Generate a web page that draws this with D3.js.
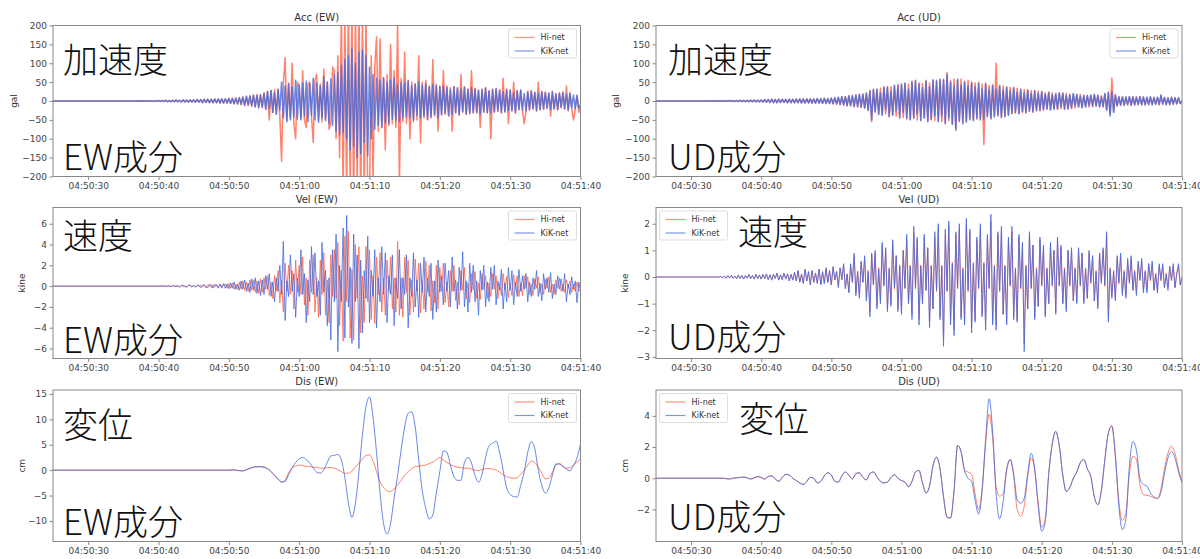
<!DOCTYPE html>
<html>
<head>
<meta charset="utf-8">
<script src="https://cdn.jsdelivr.net/npm/d3@7"></script>
<style>
  body { margin: 0; background: #fff; }
  svg { display: block; }
</style>
</head>
<body>
<svg id="chart" width="1200" height="559"></svg>
<script>
// time axis: 04:50:25 .. 04:51:40, samples every dt seconds from the start
const xTickLabels = ["04:50:30", "04:50:40", "04:50:50", "04:51:00", "04:51:10", "04:51:20", "04:51:30", "04:51:40"];
const seriesNames = ["Hi-net", "KiK-net"];

const accTicks = [-200, -150, -100, -50, 0, 50, 100, 150, 200];
const velEwTicks = [-6, -4, -2, 0, 2, 4, 6];
const disEwTicks = [-10, -5, 0, 5, 10, 15];
const velUdTicks = [-3, -2, -1, 0, 1, 2];
const disUdTicks = [-2, 0, 2, 4];

const accLim = [-200, 200];
const velEwLim = [-6.96, 7.56];
const disEwLim = [-14.05, 15.78];
const velUdLim = [-3.06, 2.61];
const disUdLim = [-4.06, 5.66];

// ---- acceleration EW (gal), dt = 0.25 s
const accEwKik = [
  0,0,0,0,0,0,0,0,0,0,0,0,0,0,0,0,0,0,0,0,
  0,0,0,0,0,0,0,0,0,0,0,0,0,0,0,0,0,0,0,0,
  0,0,0,0,0,0,0,0,0.5,-0.5,0.5,-0.5,1,-1,0.5,-1,1,-0.5,1,-1,
  1.5,-1,1,-1.5,2,-1.5,1,-2,2,-1.5,2.5,-2,1.5,-2.5,3,-2,2.5,-3,2,-2.5,
  3,-3,4,-3,3.5,-4,4,-3.5,5,-4,4.5,-5,5,-4.5,6,-5,5.5,-6,6,-5,
  7,-6,6,-8,8,-7,9,-8,10,-12,12,-10,14,-12,15,-16,14,-18,16,-15,
  20,-22,25,-20,28,-30,22,-35,30,-25,50,-45,40,-55,45,-50,38,-42,55,-48,
  42,-50,48,-40,52,-55,45,-38,60,-50,48,-56,40,-45,65,-52,50,-60,58,-65,
  70,-80,75,-90,95,-85,110,-100,120,-130,140,-120,100,-150,130,-140,135,-110,120,-145,
  90,-100,70,-75,60,-65,55,-70,62,-58,50,-60,55,-48,60,-52,45,-55,50,-45,
  48,-42,52,-45,40,-50,45,-38,50,-44,42,-40,46,-48,38,-42,44,-36,40,-45,
  38,-35,40,-32,36,-38,30,-35,38,-30,34,-36,32,-28,36,-34,30,-32,35,-30,
  32,-30,28,-34,30,-28,34,-30,26,-32,30,-28,32,-26,28,-30,25,-28,30,-26,
  28,-25,22,-30,26,-22,28,-24,20,-26,24,-22,26,-20,22,-25,20,-22,24,-20,
  22,-18,20,-22,24,-20,18,-22,20,-16,22,-20,18,-24,20,-18,16,-20,14,-18,
  -10
];
const accEwHi = [
  0,0,0,0,0,0,0,0,0,0,0,0,0,0,0,0,0,0,0,0,
  0,0,0,0,0,0,0,0,0,0,0,0,0,0,0,0,0,0,0,0,
  0,0,0,0,0,0,0,0,0.5,-0.5,0.5,-1,1,-0.5,1,-1,0.5,-1,1,-0.5,
  1,-1.5,1.5,-1,2,-2,1.5,-1.5,2,-2,2.5,-2,2,-2.5,2.5,-3,2,-2.5,3,-2,
  3,-3.5,3.5,-3,4,-4,4.5,-4,4,-5,5,-4,5.5,-5,5,-6,6,-5,5.5,-6,
  6,-7,8,-6,7,-9,9,-10,11,-10,13,-12,12,-14,16,-14,18,-15,17,-18,
  22,-20,25,-50,28,-30,30,-35,32,-40,-160,45,115,-50,48,-45,100,-60,-100,50,
  40,-45,80,-50,-70,45,50,-40,-110,55,70,-50,45,-55,85,-48,50,-75,-60,90,
  80,-100,120,-150,250,-260,240,-280,300,-250,270,-300,260,-240,280,-290,250,-270,230,-260,
  -260,120,-210,90,170,-80,165,-70,60,-130,70,-65,150,-60,80,-70,210,-220,60,-55,
  130,-60,55,-100,50,-55,45,-50,120,-110,50,-45,55,-50,40,-45,110,-40,45,-80,
  40,-38,80,-35,40,-40,35,-80,38,-32,36,-38,70,-30,38,-36,32,-34,80,-32,
  34,-32,30,-70,32,-30,36,-32,28,-100,32,-30,34,-28,30,-32,60,-30,32,-60,
  30,-27,50,-32,28,-24,30,-26,-60,-28,26,-24,28,-22,24,-27,50,-24,26,-22,
  24,-20,22,-40,26,-22,20,-24,22,-18,24,-22,40,-26,22,-20,-50,-22,16,-30,
  -12
];

// ---- acceleration UD (gal), dt = 0.25 s
const accUdKik = [
  0,0,0,0,0,0,0,0,0,0,0,0,0,0,0,0,0,0,0,0,
  0,0,0,0,0,0,0,0,0,0,0,0,0.5,-0.5,0.5,-0.5,1,-0.5,0.5,-1,
  1,-1,1.5,-1,1,-1.5,1.5,-1,2,-1.5,1.5,-2,2,-1.5,2,-2,2.5,-2,2,-2.5,
  3,-2.5,4,-3,3.5,-4,5,-4,4,-5,4.5,-4,5,-3.5,4,-5,5,-4,4.5,-5,
  5,-4.5,6,-5,5,-6,5.5,-5,6,-5.5,5,-6,6.5,-5,6,-6.5,7,-6,6,-7,
  8,-7,9,-8,10,-9,12,-10,11,-13,14,-12,13,-15,16,-14,18,-16,17,-19,
  20,-25,28,-50,30,-28,32,-35,22,-38,36,-24,38,-40,25,-38,42,-26,40,-45,
  45,-30,48,-45,32,-50,50,-46,55,-35,45,-52,35,-44,52,-55,38,-48,56,-40,
  52,-55,58,-40,55,-60,70,-45,50,-62,40,-75,58,-52,42,-60,50,-56,40,-48,
  48,-52,38,-45,46,-50,32,-48,45,-40,30,-46,40,-42,32,-38,40,-44,30,-40,
  36,-38,26,-32,36,-30,24,-34,30,-28,22,-30,28,-26,20,-28,26,-25,20,-24,
  25,-22,18,-20,22,-24,16,-22,18,-20,22,-15,20,-22,14,-20,16,-18,20,-13,
  18,-15,12,-18,14,-16,15,-11,16,-13,18,-12,14,-16,11,-14,20,-25,22,-40,
  25,-30,15,-12,12,-10,10,-12,11,-9,12,-10,10,-11,9,-10,12,-9,10,-11,
  10,-9,11,-10,9,-8,10,-9,16,-8,9,-10,8,-9,10,-8,9,-7,8,-7,
  0
];
const accUdHi = [
  0,0,0,0,0,0,0,0,0,0,0,0,0,0,0,0,0,0,0,0,
  0,0,0,0,0,0,0,0,0,0,0,0,0.5,-0.5,0.5,-1,0.5,-0.5,1,-0.5,
  1,-1.5,1,-1,1.5,-1,1,-1.5,1.5,-2,2,-1.5,1.5,-2,2.5,-1.5,2,-2.5,2.5,-2,
  2.5,-3,3.5,-3.5,4,-3,4.5,-4.5,4,-4,5,-4.5,4,-4,4.5,-4.5,4.5,-5,5,-4,
  5.5,-5,5,-5.5,6,-5,6,-5.5,5.5,-6,6,-5,6,-6,5.5,-6,6.5,-7,7,-6,
  7,-8,8,-9,9,-10,11,-11,12,-12,13,-13,15,-14,15,-16,17,-17,19,-18,
  22,-24,26,-55,32,-30,30,-36,34,-35,38,-34,36,-42,38,-36,40,-40,44,-42,
  42,-44,46,-48,45,-48,52,-44,52,-50,48,-50,46,-46,55,-52,48,-50,54,-52,
  55,-52,56,-54,58,-58,75,-52,54,-60,58,-78,55,-55,58,-58,52,-54,55,-50,
  50,-50,48,-48,50,-46,45,-115,48,-42,42,-48,44,-40,100,-40,42,-42,40,-42,
  38,-36,36,-34,34,-32,34,-32,32,-30,30,-32,30,-28,28,-30,28,-26,26,-26,
  24,-24,22,-22,24,-22,22,-20,20,-22,20,-20,22,-20,20,-22,18,-20,18,-18,
  16,-17,18,-16,16,-14,14,-16,14,-15,16,-14,16,-14,14,-16,18,-22,24,-35,
  60,-28,18,-14,10,-12,12,-10,9,-11,10,-12,12,-9,11,-9,10,-11,11,-9,
  9,-10,10,-9,10,-9,9,-10,14,-9,10,-9,9,-10,9,-9,8,-8,9,-6,
  0
];

// ---- velocity EW (kine), dt = 0.25 s
const velEwKik = [
  0,0,0,0,0,0,0,0,0,0,0,0,0,0,0,0,0,0,0,0,
  0,0,0,0,0,0,0,0,0,0,0,0,0,0,0,0,0,0,0,0,
  0,0,0,0,0,0,0,0,0,0,0,0,0,0,0,0,0,0,0,0,
  0,0.05,-0.05,0.05,0,-0.05,0.05,-0.05,0.05,0,-0.05,0.05,-0.1,0.05,0.1,-0.05,-0.1,0.1,0.05,-0.1,
  0.1,-0.1,0.05,0.1,-0.15,0.1,0.15,-0.1,-0.15,0.15,0.1,-0.2,0.15,0.1,-0.2,0.2,-0.15,0.25,-0.2,0.2,
  -0.25,0.3,-0.2,0.4,-0.3,0.2,-0.4,0.5,-0.3,0.6,-0.5,0.3,-0.6,0.7,-0.4,0.8,-0.7,0.5,-0.9,0.6,
  -0.8,1.0,-0.3,1.2,-1.0,0.4,-1.5,0.8,-0.5,2.0,-0.8,4.3,-3.3,0.5,-1.0,3.0,-0.5,1.2,-3.0,0.8,
  -1.0,3.5,-0.8,1.2,-3.5,0.6,-1.5,3.8,-0.8,3.2,-1.0,0.5,-2.8,4.2,-0.6,1.5,-3.8,0.8,-5.2,3.5,
  -1.5,5.0,-6.3,2.0,-1.5,5.6,-5.0,6.8,-2.0,1.8,-5.5,5.0,-1.5,3.0,-6.0,2.5,-4.5,1.5,-1.2,4.8,
  -3.5,1.5,-1.0,3.5,-4.0,0.8,-1.5,3.8,-0.8,3.2,-3.5,1.0,-0.8,3.0,-3.8,0.8,-1.2,3.5,-2.2,0.8,
  -0.8,3.0,-4.0,0.8,-1.0,3.2,-2.0,0.6,-3.0,2.2,-0.6,2.8,-2.5,0.8,-1.0,2.2,-3.2,0.5,-2.5,2.5,
  -0.6,1.0,-1.8,2.2,-0.5,1.5,-2.0,2.8,-0.5,0.6,-2.2,1.8,-0.4,3.3,-2.0,0.5,-2.5,2.2,-0.6,2.0,
  -1.5,0.5,-2.8,1.5,-0.4,2.0,-2.0,0.4,-1.5,1.8,-0.3,2.0,-1.8,0.5,-0.4,1.6,-2.2,0.3,-1.5,1.8,
  -0.4,1.5,-1.8,0.4,-1.0,1.6,-0.5,1.0,-0.3,1.2,-1.5,0.4,-1.0,0.8,-0.3,1.5,-1.0,0.3,-1.4,1.2,
  -0.3,0.8,-0.6,1.3,-1.2,0.2,-0.8,1.0,-0.3,0.7,-0.5,1.2,-1.5,0.2,-0.8,0.9,-0.3,0.5,-1.6,0.4,
  -0.5
];
const velEwHi = [
  0,0,0,0,0,0,0,0,0,0,0,0,0,0,0,0,0,0,0,0,
  0,0,0,0,0,0,0,0,0,0,0,0,0,0,0,0,0,0,0,0,
  0,0,0,0,0,0,0,0,0,0,0,0,0,0,0,0,0,0,0,0,
  0,-0.05,0.05,0,-0.05,0.05,0,-0.05,0.05,-0.05,0.05,0,-0.05,0.1,-0.05,0.05,-0.1,0.05,0.1,-0.05,
  0.05,-0.1,0.1,-0.05,0.1,-0.1,0.1,-0.15,0.1,0.1,-0.15,0.15,-0.1,0.15,-0.15,0.2,-0.2,0.15,0.2,-0.2,
  0.25,-0.2,0.3,-0.3,0.2,-0.35,0.4,-0.3,0.5,-0.4,0.4,-0.5,0.6,-0.4,0.6,-0.6,0.5,-0.7,0.7,-0.6,
  0.8,-0.3,1.0,-0.9,0.4,-1.2,1.0,-0.5,1.5,-1.6,0.6,-2.5,2.2,-0.5,2.0,-0.8,1.5,-2.2,2.5,-0.6,
  2.0,-0.8,2.8,-1.8,0.8,-2.8,2.5,-0.6,3.0,-2.5,0.8,-3.0,2.5,-0.8,3.2,-2.8,0.6,-3.5,3.0,-1.0,
  3.5,-1.2,4.2,-3.8,1.5,-5.3,4.8,-1.5,5.3,-5.0,1.6,-5.2,4.0,-1.2,3.8,-4.5,1.0,-3.5,3.8,-1.5,
  3.5,-3.2,1.0,-3.6,2.8,-0.8,3.2,-2.5,0.8,-2.8,2.5,-0.6,2.8,-2.2,0.8,-2.5,4.3,-2.8,0.8,-3.0,
  2.8,-0.6,2.5,-2.8,0.6,-2.5,2.6,-0.5,2.2,-2.6,0.5,-2.2,2.4,-0.6,2.0,-2.4,0.5,-1.6,2.0,-2.2,
  1.8,-0.5,2.2,-1.6,0.4,-2.0,1.5,-0.5,2.0,-1.4,0.4,-1.8,1.5,-0.4,1.8,-1.2,0.3,-1.6,1.2,-0.4,
  1.4,-1.2,0.3,-1.3,1.2,-0.3,1.0,-1.2,0.3,-1.0,1.2,-0.3,1.0,-1.2,0.3,-0.9,1.2,-0.3,0.9,-1.1,
  0.3,-0.9,1.1,-0.3,1.0,-1.0,0.3,-0.9,1.0,-0.2,0.9,-0.8,0.2,-0.9,0.7,-0.2,0.9,-0.7,0.2,-0.8,
  0.7,-0.2,0.9,-0.6,0.2,-0.8,0.6,-0.2,0.8,-0.5,0.2,-0.6,0.6,-0.2,0.5,-0.6,0.2,-0.5,0.4,-0.5,
  -0.3
];

// ---- velocity UD (kine), dt = 0.25 s
const velUdKik = [
  0,0,0,0,0,0,0,0,0,0,0,0,0,0,0,0,0,0,0,0,
  0,0,0,0,0,0,0,0,0,0,0,0,0,0,0,0,0,0.02,-0.03,0.03,
  -0.05,0.05,-0.03,0.06,-0.05,0.03,-0.06,0.08,-0.05,0.05,-0.08,0.06,-0.04,0.1,-0.06,0.05,-0.08,0.1,-0.05,0.08,
  -0.08,0.1,-0.06,0.12,-0.1,0.08,-0.12,0.1,-0.05,0.15,-0.12,0.08,-0.1,0.15,-0.08,0.12,-0.15,0.1,-0.12,0.18,
  -0.15,0.25,-0.2,0.1,-0.25,0.3,-0.15,0.2,-0.3,0.25,-0.2,0.15,-0.25,0.3,-0.3,0.2,-0.25,0.35,-0.2,0.25,
  -0.3,0.4,-0.1,0.2,-0.4,0.35,-0.1,0.5,-0.45,0.1,-0.6,0.5,-0.2,0.9,-0.7,0.2,-0.8,0.6,-0.2,0.8,
  -0.9,0.2,-1.5,0.9,-0.3,1.0,-1.2,0.3,-1.0,1.3,-0.3,1.1,-1.3,0.3,-1.1,1.4,-0.4,0.8,-1.3,0.4,
  -1.4,1.0,-0.4,1.6,-1.0,0.4,-1.6,1.9,-0.4,1.5,-1.8,0.4,-1.0,1.6,-0.5,1.1,-1.9,0.4,-1.2,1.7,
  -0.5,2.0,-1.6,0.4,-2.6,1.8,-0.5,2.1,-1.8,0.5,-2.2,1.7,-0.4,2.0,-1.6,0.3,-1.8,2.2,-0.5,1.8,
  -2.1,0.5,-1.7,1.5,-0.4,2.0,-1.5,0.5,-2.0,1.6,-0.4,2.35,-1.8,0.4,-2.0,1.7,-0.5,1.9,-1.4,0.4,
  -1.8,1.5,-0.3,1.9,-1.6,0.3,-1.7,1.6,-0.4,1.3,-2.8,0.4,-1.2,1.7,-0.4,1.2,-1.6,0.3,-1.1,1.5,
  -0.3,1.2,-1.5,0.3,-1.0,1.3,-0.3,1.0,-1.4,1.5,-0.3,1.2,-1.0,0.3,-1.3,1.0,-0.3,1.1,-0.9,0.3,
  -1.0,1.1,-0.3,0.9,-1.0,0.3,-0.8,1.0,-0.2,0.8,-0.9,0.2,-1.2,0.9,-0.2,1.1,-0.3,1.7,-1.7,0.3,
  -0.8,0.2,-0.9,0.8,-0.2,0.9,-0.7,0.2,-0.8,0.7,-0.2,0.8,-0.5,0.2,-0.7,0.6,-0.1,0.7,-0.6,0.2,
  -0.6,0.5,-0.1,0.6,-0.5,0.1,-0.6,0.5,-0.1,0.5,-0.4,0.1,-0.5,0.4,-0.1,0.5,-0.4,0.1,0.5,-0.3,
  0
];
const velUdHi = [
  0,0,0,0,0,0,0,0,0,0,0,0,0,0,0,0,0,0,0,0,
  0,0,0,0,0,0,0,0,0,0,0,0,0,0,0,0,0,0.02,-0.02,0.03,
  -0.04,0.05,-0.04,0.05,-0.05,0.04,-0.05,0.07,-0.05,0.06,-0.07,0.05,-0.05,0.09,-0.06,0.06,-0.07,0.09,-0.06,0.07,
  -0.07,0.09,-0.07,0.1,-0.09,0.08,-0.1,0.1,-0.06,0.13,-0.11,0.08,-0.1,0.13,-0.08,0.11,-0.13,0.1,-0.11,0.16,
  -0.14,0.22,-0.18,0.12,-0.22,0.27,-0.15,0.2,-0.27,0.23,-0.2,0.15,-0.22,0.28,-0.27,0.2,-0.23,0.3,-0.2,0.23,
  -0.28,0.35,-0.12,0.22,-0.35,0.33,-0.1,0.45,-0.4,0.12,-0.55,0.45,-0.2,0.8,-0.6,0.22,-0.7,0.55,-0.2,0.7,
  -0.8,0.25,-1.3,0.85,-0.3,0.9,-1.1,0.35,-0.9,1.2,-0.35,1.0,-1.2,0.35,-1.0,1.3,-0.45,0.8,-1.2,0.45,
  -1.3,1.0,-0.45,1.4,-1.0,0.45,-1.4,1.7,-0.45,1.4,-1.6,0.45,-1.0,1.5,-0.5,1.1,-1.7,0.45,-1.2,1.5,
  -0.55,1.8,-1.5,0.45,-2.3,1.6,-0.55,1.9,-1.7,0.55,-2.0,1.6,-0.45,1.8,-1.5,0.35,-1.7,2.0,-0.55,1.7,
  -1.9,0.55,-1.6,1.4,-0.45,1.8,-1.4,0.55,-1.8,1.5,-0.45,2.1,-1.7,0.45,-1.8,1.6,-0.55,1.7,-1.4,0.45,
  -1.7,1.4,-0.35,1.7,-1.5,0.35,-1.6,1.5,-0.45,1.2,-2.5,0.45,-1.2,1.6,-0.45,1.2,-1.5,0.35,-1.1,1.4,
  -0.35,1.1,-1.4,0.35,-1.0,1.2,-0.35,1.0,-1.3,1.4,-0.35,1.1,-1.0,0.35,-1.2,1.0,-0.35,1.0,-0.9,0.35,
  -0.9,1.0,-0.35,0.9,-0.9,0.35,-0.8,0.9,-0.25,0.8,-0.9,0.25,-1.1,0.9,-0.25,1.0,-0.35,1.5,-1.5,0.35,
  -0.7,0.25,-0.8,0.7,-0.25,0.8,-0.6,0.25,-0.7,0.6,-0.25,0.7,-0.5,0.25,-0.6,0.5,-0.15,0.6,-0.5,0.25,
  -0.5,0.5,-0.15,0.5,-0.5,0.15,-0.5,0.4,-0.15,0.4,-0.4,0.15,-0.4,0.4,-0.15,0.4,-0.4,0.15,0.4,-0.3,
  0
];

// ---- displacement EW (cm), dt = 0.5 s
const disEwKik = [
  0,0,0,0,0,0,0,0,0,0, 0,0,0,0,0,0,0,0,0,0,
  0,0,0,0,0,0,0,0,0,0, 0,0,0,0,0,0,0,0,0,0,
  0,0,0,0,0,0,0,0,0,0, 0,
  0.05,0,-0.1,-0.15,0.1,0.4,0.6,0.7,0.7,0.6,
  0.3,-0.3,-1.0,-1.7,-2.3,-2.2,-0.9,0.5,1.5,2.2,
  2.5,2.1,1.4,0.4,-0.4,-0.6,0.1,1.5,2.8,2.9,
  3.1,2.0,-1.5,-6.5,-9.3,-6.5,-0.3,7.0,12.5,14.4,
  10.5,3.5,-4.5,-10.5,-12.6,-10.5,-5.5,-1.0,4.0,8.5,
  11.2,11.5,8.5,2.0,-4.0,-7.5,-9.6,-8.8,-4.5,-0.3,
  3.8,3.5,1.0,-1.3,-2.0,-2.0,1.5,2.5,1.4,-1.0,
  -2.4,-0.8,2.5,4.8,5.3,5.7,3.5,0,-3.5,-4.8,
  -5.2,-5.3,-3.0,-0.3,3.5,5.6,4.2,0,-3.0,-4.5,
  -3.5,-1.0,1.2,1.2,0.7,0.2,-0.1,0.9,2.4,5.1
];
const disEwHi = [
  0,0,0,0,0,0,0,0,0,0, 0,0,0,0,0,0,0,0,0,0,
  0,0,0,0,0,0,0,0,0,0, 0,0,0,0,0,0,0,0,0,0,
  0,0,0,0,0,0,0,0,0,0, 0,
  0.05,0,-0.1,-0.15,0.1,0.35,0.55,0.65,0.65,0.55,
  0.25,-0.3,-1.0,-1.8,-2.4,-2.0,-0.5,0.4,0.8,1.0,
  0.9,0.75,0.7,0.6,0.5,0.4,0.4,0.5,0.5,0.4,
  0.1,-0.3,-0.6,-0.6,-0.2,0.6,1.4,2.2,2.9,3.0,
  1.8,-0.3,-2.3,-3.4,-4.1,-4.2,-3.7,-2.9,-2.0,-1.0,
  -0.3,0.3,0.7,0.8,0.9,1.0,1.3,1.6,2.1,2.5,
  2.0,1.5,1.1,0.8,0.6,0.5,0.4,0.4,0.2,0,
  -0.1,0.1,0.3,0.3,0.2,0,-0.4,-0.9,-1.3,-1.5,
  -1.6,-1.5,-0.8,0,1.0,1.8,1.5,0.6,-0.6,-1.7,
  -1.6,-0.4,1.0,1.3,0.8,0.4,0.5,1.0,1.6,2.2
];

// ---- displacement UD (cm), dt = 0.5 s
const disUdKik = [
  0,0,0,0,0,0,0,0,0,0, 0,0,0,0,0,0,0,0,0,0,
  -0.03,-0.05,0,0.03,0.05,0.08,0.02,-0.05,0.02,0.1,
  0.05,-0.05,0.1,0.15,-0.05,-0.2,0.05,0.25,0.2,0,
  -0.15,-0.3,-0.4,-0.2,0.05,0,-0.3,-0.2,0.15,0.35,
  0.2,-0.2,-0.25,0.15,0.4,0.2,-0.05,0.3,0.35,0.05,
  -0.1,0.3,0.4,0.1,-0.2,-0.3,-0.25,0.05,0.22,0,
  -0.15,-0.25,-0.55,-0.2,0.4,0.5,-0.3,-0.95,-0.5,0.8,
  1.35,0.6,-1.2,-2.5,-2.55,-0.8,2.1,1.7,0.5,0,
  -0.2,-1.4,-2.3,-0.8,2.5,5.1,3.0,-1.0,-2.6,-1.5,
  0.6,1.2,0.3,-1.4,-1.6,-1.3,0.3,1.6,0.6,-1.8,
  -3.4,-2.8,0.3,2.2,3.0,2.1,0.2,-0.85,-0.6,0,
  0.4,1.0,1.2,0.6,0.1,-1.2,-1.7,-0.8,1.2,2.9,
  3.35,1.5,-1.8,-3.3,-2.6,0.8,2.35,1.8,0,-0.4,
  -0.5,-0.95,-1.2,-1.3,-0.9,0.3,1.3,1.7,1.3,0.4,
  -0.3
];
const disUdHi = [
  0,0,0,0,0,0,0,0,0,0, 0,0,0,0,0,0,0,0,0,0,
  -0.03,-0.05,0,0.03,0.05,0.08,0.02,-0.05,0.02,0.1,
  0.05,-0.05,0.1,0.15,-0.05,-0.2,0.05,0.25,0.2,0,
  -0.15,-0.3,-0.4,-0.2,0.05,0,-0.3,-0.2,0.15,0.35,
  0.2,-0.2,-0.25,0.15,0.4,0.2,-0.05,0.3,0.35,0.05,
  -0.1,0.3,0.4,0.1,-0.2,-0.3,-0.25,0.05,0.22,0,
  -0.15,-0.25,-0.55,-0.2,0.4,0.5,-0.3,-0.95,-0.5,0.8,
  1.35,0.6,-1.2,-2.5,-2.55,-0.8,2.1,1.7,0.5,0.4,
  0.25,-1.0,-2.0,-0.7,2.2,4.1,2.6,-0.6,-1.15,-1.0,
  0.5,1.2,0.1,-2.0,-2.45,-1.8,0.1,1.3,0.5,-1.6,
  -3.15,-2.6,0.3,2.2,3.0,2.1,0.2,-0.85,-0.6,0,
  0.4,1.0,1.2,0.6,0.1,-1.2,-1.7,-0.8,1.2,2.9,
  3.35,1.3,-1.5,-2.7,-2.2,0.3,1.4,1.2,-0.4,-1.05,
  -1.1,-1.15,-1.25,-1.3,-0.7,0.6,1.6,2.05,1.6,0.6,
  -0.2
];

const HI_COLOR = "#ff6347";
const KIK_COLOR = "#4169e1";

const cols = [{ x0: 53, x1: 580.5 }, { x0: 656, x1: 1182 }];
const rows = [{ y0: 25.5, y1: 176.5 }, { y0: 207.5, y1: 358.5 }, { y0: 390, y1: 541.5 }];

const panels = [
  { c: 0, r: 0, title: "Acc (EW)", unit: "gal", unitDx: 39, ylim: accLim, ticks: accTicks, hi: accEwHi, kik: accEwKik, dt: 0.25, lw: 1.5, legend: "right",
    labels: [["加速度", 63, 73], ["EW成分", 63, 170]] },
  { c: 0, r: 1, title: "Vel (EW)", unit: "kine", unitDx: 31, ylim: velEwLim, ticks: velEwTicks, hi: velEwHi, kik: velEwKik, dt: 0.25, lw: 1, legend: "right",
    labels: [["速度", 63, 249], ["EW成分", 63, 353]] },
  { c: 0, r: 2, title: "Dis (EW)", unit: "cm", unitDx: 31, ylim: disEwLim, ticks: disEwTicks, hi: disEwHi, kik: disEwKik, dt: 0.5, lw: 1, legend: "right", smooth: true,
    labels: [["変位", 63, 438], ["EW成分", 63, 535]] },
  { c: 1, r: 0, title: "Acc (UD)", unit: "gal", unitDx: 40, ylim: accLim, ticks: accTicks, hi: accUdHi, kik: accUdKik, dt: 0.25, lw: 1.5, legend: "right",
    labels: [["加速度", 668, 73], ["UD成分", 668, 170]] },
  { c: 1, r: 1, title: "Vel (UD)", unit: "kine", unitDx: 31, ylim: velUdLim, ticks: velUdTicks, hi: velUdHi, kik: velUdKik, dt: 0.25, lw: 1, legend: "left",
    labels: [["速度", 738, 245], ["UD成分", 668, 350]] },
  { c: 1, r: 2, title: "Dis (UD)", unit: "cm", unitDx: 31, ylim: disUdLim, ticks: disUdTicks, hi: disUdHi, kik: disUdKik, dt: 0.5, lw: 1, legend: "left", smooth: true,
    labels: [["変位", 739, 432], ["UD成分", 668, 530]] }
];

const parseT = d3.utcParse("%H:%M:%S");
const xStart = parseT("04:50:25");
const xEnd = parseT("04:51:40");
const xTicks = xTickLabels.map(parseT);

const svg = d3.select("#chart");

function styleAxis(sel) {
  sel.select(".domain").remove();
  sel.selectAll(".tick line").attr("stroke", "#888");
  sel.selectAll(".tick text")
    .attr("fill", "#444")
    .style("font-family", "'DejaVu Sans', sans-serif")
    .style("font-size", "9px");
}

panels.forEach((p, i) => {
  const { x0, x1 } = cols[p.c];
  const { y0, y1 } = rows[p.r];
  const x = d3.scaleUtc().domain([xStart, xEnd]).range([x0, x1]);
  const y = d3.scaleLinear().domain(p.ylim).range([y1, y0]);
  const g = svg.append("g");

  g.append("clipPath").attr("id", "clip" + i)
    .append("rect").attr("x", x0).attr("y", y0).attr("width", x1 - x0).attr("height", y1 - y0);

  const line = d3.line()
    .x((d, j) => x(new Date(+xStart + j * p.dt * 1000)))
    .y(d => y(d))
    .curve(p.smooth ? d3.curveMonotoneX : d3.curveLinear);

  const plot = g.append("g").attr("clip-path", `url(#clip${i})`);
  [[p.hi, HI_COLOR], [p.kik, KIK_COLOR]].forEach(([data, color]) => {
    plot.append("path").datum(data)
      .attr("d", line)
      .attr("fill", "none")
      .attr("stroke", color)
      .attr("stroke-opacity", 0.8)
      .attr("stroke-width", p.lw)
      .attr("stroke-linejoin", "round");
  });

  // frame
  g.append("rect")
    .attr("x", x0).attr("y", y0).attr("width", x1 - x0).attr("height", y1 - y0)
    .attr("fill", "none").attr("stroke", "#888").attr("stroke-width", 1);

  g.append("g").attr("transform", `translate(0,${y1})`)
    .call(d3.axisBottom(x).tickValues(xTicks).tickFormat(d3.utcFormat("%H:%M:%S")).tickSize(3.5).tickPadding(2.5))
    .call(styleAxis);

  g.append("g").attr("transform", `translate(${x0},0)`)
    .call(d3.axisLeft(y).tickValues(p.ticks).tickFormat(d3.format("d")).tickSize(3.5).tickPadding(2.5))
    .call(styleAxis);

  // title and unit label
  g.append("text")
    .attr("x", (x0 + x1) / 2).attr("y", y0 - 5)
    .attr("text-anchor", "middle")
    .attr("fill", "#333")
    .style("font-family", "'DejaVu Sans', sans-serif")
    .style("font-size", "10px")
    .text(p.title);

  g.append("text")
    .attr("transform", `translate(${x0 - p.unitDx},${(y0 + y1) / 2}) rotate(-90)`)
    .attr("text-anchor", "middle").attr("dy", "0.35em")
    .attr("fill", "#333")
    .style("font-family", "'DejaVu Sans', sans-serif")
    .style("font-size", "9px")
    .text(p.unit);

  // legend
  const lw = 68, lh = 29;
  const lx = p.legend === "right" ? x1 - lw - 4 : x0 + 3.5;
  const ly = y0 + 3.5;
  g.append("rect")
    .attr("x", lx).attr("y", ly).attr("width", lw).attr("height", lh).attr("rx", 2)
    .attr("fill", "#fff").attr("fill-opacity", 0.85)
    .attr("stroke", "#ddd").attr("stroke-width", 1);
  [HI_COLOR, KIK_COLOR].forEach((color, k) => {
    const yy = ly + 8.5 + k * 13.5;
    g.append("line")
      .attr("x1", lx + 6).attr("x2", lx + 26).attr("y1", yy).attr("y2", yy)
      .attr("stroke", color).attr("stroke-opacity", 0.7).attr("stroke-width", 1.2);
    g.append("text")
      .attr("x", lx + 32).attr("y", yy).attr("dy", "0.35em")
      .attr("fill", "#333")
      .style("font-family", "'DejaVu Sans', sans-serif")
      .style("font-size", "8px")
      .text(seriesNames[k]);
  });

  // big overlay labels
  p.labels.forEach(([txt, lxp, lyp]) => {
    g.append("text")
      .attr("x", lxp).attr("y", lyp)
      .attr("fill", "#111")
      .style("font-family", "'Noto Sans CJK JP', 'Noto Sans', sans-serif")
      .style("font-weight", 300)
      .style("font-size", "35px")
      .text(txt);
  });
});
</script>
</body>
</html>
